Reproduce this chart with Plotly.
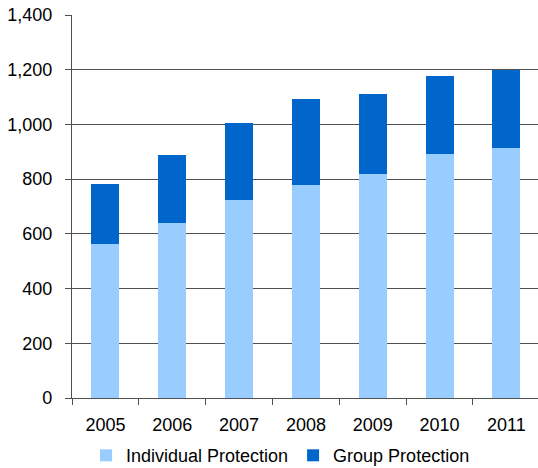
import plotly.graph_objects as go

years = ["2005", "2006", "2007", "2008", "2009", "2010", "2011"]
individual = [562, 639, 723, 778, 818, 891, 913]
group_total = [781, 888, 1006, 1092, 1111, 1177, 1199]
group = [t - i for t, i in zip(group_total, individual)]

y_ticks = [0, 200, 400, 600, 800, 1000, 1200, 1400]
y_labels = ["0", "200", "400", "600", "800", "1,000", "1,200", "1,400"]

font = dict(family="Liberation Sans, Arial, sans-serif", size=18, color="#000000")

fig = go.Figure()
fig.add_trace(go.Bar(x=years, y=individual, name="Individual Protection",
                     marker=dict(color="#99CCFF", line=dict(width=0))))
fig.add_trace(go.Bar(x=years, y=group, name="Group Protection",
                     marker=dict(color="#0066CC", line=dict(width=0))))

fig.update_layout(
    barmode="stack",
    bargap=0.58,
    width=538, height=468,
    margin=dict(l=72, r=0, t=15, b=70, autoexpand=False),
    paper_bgcolor="white", plot_bgcolor="white",
    font=font,
    showlegend=True,
    legend=dict(orientation="h", x=0.03, xanchor="left",
                yref="container", y=0.066, yanchor="top",
                font=dict(size=18), itemwidth=30, traceorder="normal"),
)
fig.update_xaxes(
    type="category", range=[-0.5, 6.473],
    showline=True, linecolor="#505050", linewidth=1.2,
    ticks="outside", tickson="boundaries", ticklen=6, tickcolor="#505050", tickwidth=1.2,
    showgrid=False, tickfont=font, ticklabelstandoff=10,
)
fig.update_yaxes(
    range=[0, 1400], tickvals=y_ticks, ticktext=y_labels,
    showline=True, linecolor="#505050", linewidth=1.2,
    ticks="outside", ticklen=6, tickcolor="#505050", tickwidth=1.2,
    showgrid=True, gridcolor="#505050", gridwidth=1.2,
    zeroline=False, tickfont=font, ticklabelstandoff=9,
)

fig.write_html("out.html")
